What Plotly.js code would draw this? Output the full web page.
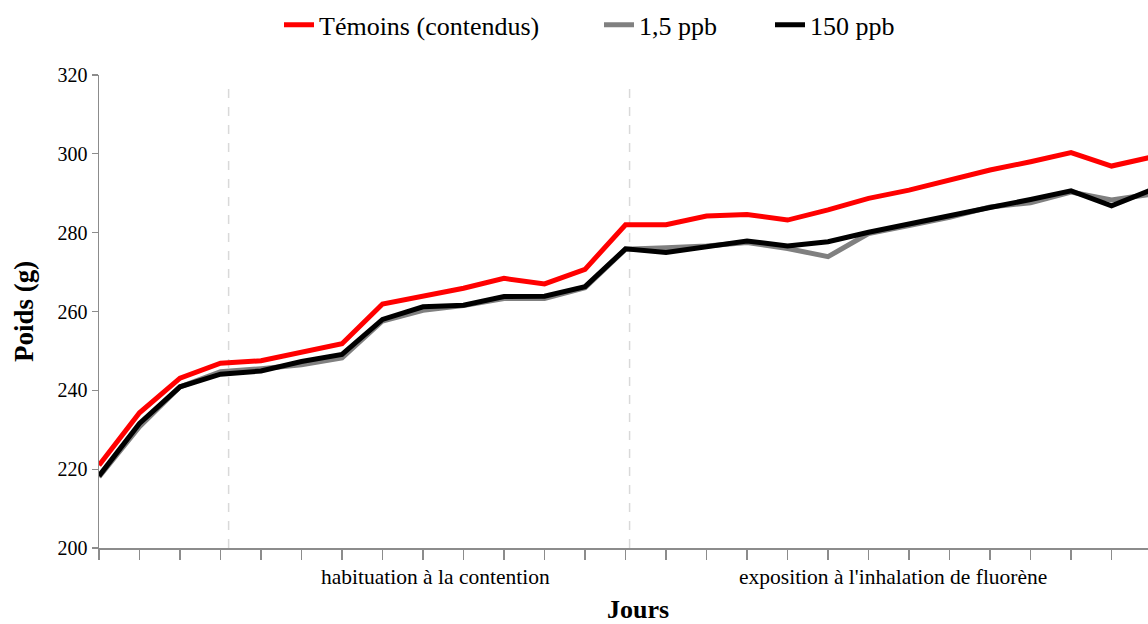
<!DOCTYPE html>
<html>
<head>
<meta charset="utf-8">
<script src="https://cdn.plot.ly/plotly-3.0.1.min.js"></script>
<style>html,body{margin:0;padding:0;background:#fff;}#chart{width:1148px;height:624px;}</style>
</head>
<body>
<div id="chart"></div>
<script>
// Day index (category positions along the x axis)
const days = [0,1,2,3,4,5,6,7,8,9,10,11,12,13,14,15,16,17,18,19,20,21,22,23,24,25,26];

// Body weight (g)
const temoins = [221.0,234.3,243.1,246.9,247.5,249.8,251.8,261.9,263.9,265.9,268.4,267.0,270.7,282.0,282.0,284.2,284.6,283.2,285.8,288.7,290.8,293.5,295.9,298.0,300.3,296.9,299.2];
const ppb1_5  = [218.0,230.8,240.9,244.7,245.5,246.5,248.2,257.6,260.3,261.5,263.3,263.3,266.0,275.8,276.2,276.6,277.5,276.0,273.9,279.8,281.8,283.9,286.5,287.6,290.3,288.3,289.8];
const ppb150  = [218.3,231.6,240.9,244.1,244.9,247.3,249.1,258.0,261.2,261.6,263.8,263.9,266.3,275.9,275.0,276.6,277.9,276.6,277.7,280.1,282.3,284.4,286.4,288.4,290.6,286.8,290.9];

const seriesNames = ['Témoins (contendus)', '1,5 ppb', '150 ppb'];
const seriesColors = ['#FF0000', '#808080', '#000000'];
const legendIds = ['legend', 'legend2', 'legend3'];
const legendLeftPx = [279, 599, 770];

// Phase labels and boundaries
const phaseLabels = ['habituation à la contention', "exposition à l'inhalation de fluorène"];
const phaseCenters = [8.3, 19.6];
const phaseBoundaries = [3.2, 13.1];

const yTicks = [200,220,240,260,280,300,320];

const font = 'Liberation Serif, Times New Roman, serif';

const traces = [temoins, ppb1_5, ppb150].map((ys, i) => ({
  x: days, y: ys, type: 'scatter', mode: 'lines', name: seriesNames[i],
  legend: legendIds[i],
  line: {color: seriesColors[i], width: 5}
}));

const shapes = phaseBoundaries.map(b => ({
  type: 'line', xref: 'x', yref: 'y', x0: b, x1: b, y0: 200, y1: 316.7,
  line: {color: '#d9d9d9', width: 1.5, dash: 'dash'}, layer: 'below'
}));

const annotations = phaseLabels.map((t, i) => ({
  text: t, xref: 'x', yref: 'paper', x: phaseCenters[i], y: -0.062,
  yanchor: 'middle', xanchor: 'center', showarrow: false,
  font: {family: font, size: 21.5, color: '#000'}
}));
annotations.push({
  text: '<b>Jours</b>', xref: 'paper', yref: 'paper', x: (638-99)/1049, y: -0.13,
  xanchor: 'center', yanchor: 'middle', showarrow: false,
  font: {family: font, size: 26, color: '#000'}
});

const layout = {
  width: 1148, height: 624,
  margin: {l: 99, r: 0, t: 75, b: 76},
  paper_bgcolor: '#fff', plot_bgcolor: '#fff',
  font: {family: font, color: '#000'},
  showlegend: true,
  xaxis: {
    type: 'linear', range: [0, 25.9], autorange: false,
    tickmode: 'array', tickvals: days.slice(0, 26), showticklabels: false,
    ticks: 'outside', ticklen: 10, tickwidth: 1.3, tickcolor: '#8c8c8c',
    showline: true, linecolor: '#8c8c8c', linewidth: 1.5,
    showgrid: false, zeroline: false
  },
  yaxis: {
    range: [200, 320], autorange: false,
    tickmode: 'array', tickvals: yTicks,
    ticks: 'outside', ticklen: 6, tickwidth: 1.3, tickcolor: '#8c8c8c',
    showline: true, linecolor: '#8c8c8c', linewidth: 1.5,
    showgrid: false, zeroline: false,
    tickfont: {family: font, size: 20, color: '#000'},
    title: {text: '<b>Poids (g)</b>', font: {family: font, size: 27, color: '#000'}, standoff: 16}
  },
  shapes: shapes,
  annotations: annotations
};

legendIds.forEach((id, i) => {
  layout[id] = {orientation: 'h', x: (legendLeftPx[i] - 99) / 1049, xanchor: 'left',
    y: 1.106, yanchor: 'middle', bgcolor: 'rgba(0,0,0,0)',
    font: {family: font, size: 26, color: '#000'}};
});

Plotly.newPlot('chart', traces, layout, {displayModeBar: false, staticPlot: true});
</script>
</body>
</html>
